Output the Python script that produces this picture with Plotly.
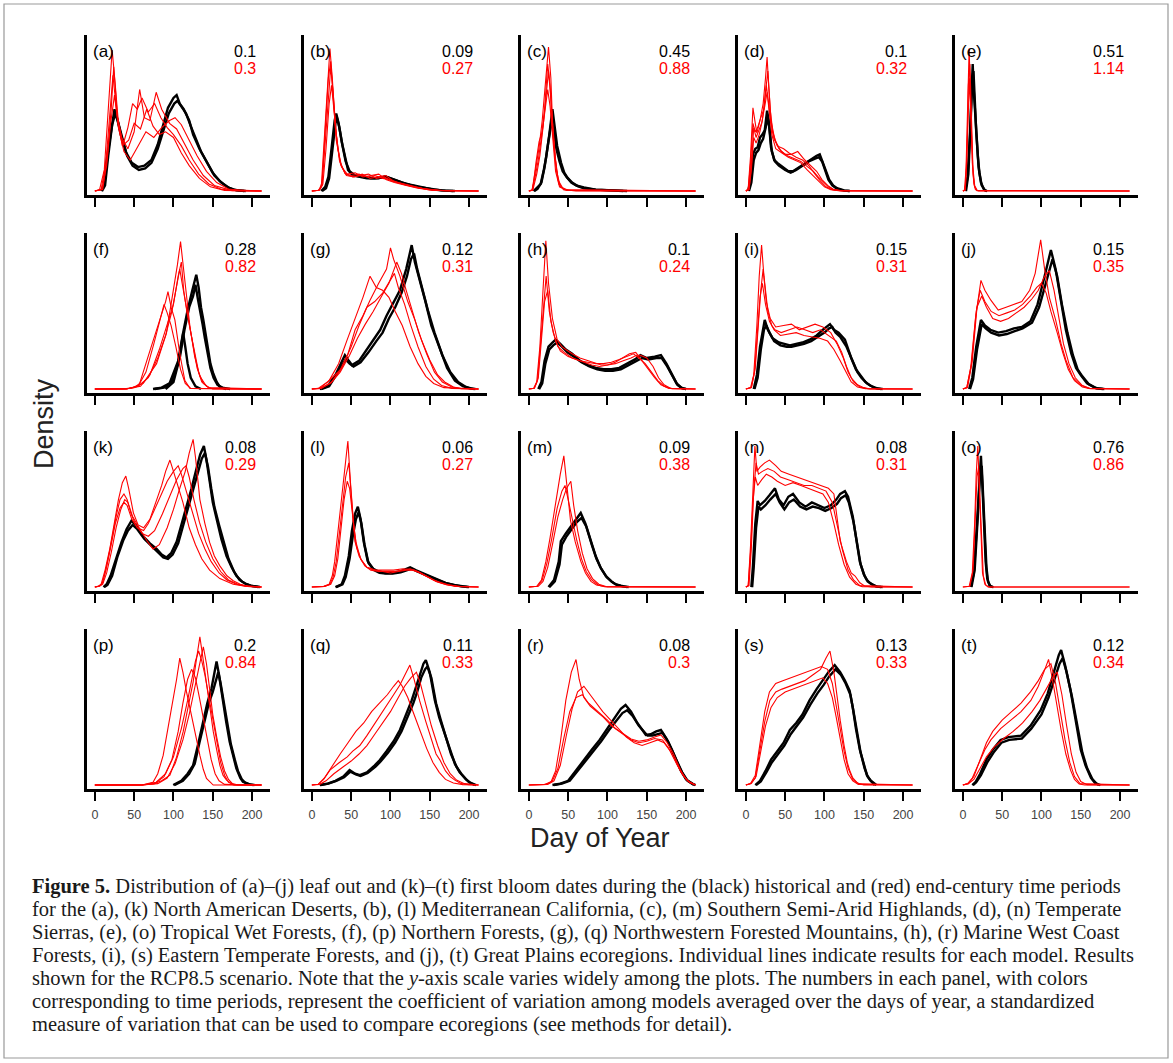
import plotly.graph_objects as go

W, H = 1173, 1063

PANEL_LABELS = ["(a)", "(b)", "(c)", "(d)", "(e)", "(f)", "(g)", "(h)", "(i)", "(j)",
                "(k)", "(l)", "(m)", "(n)", "(o)", "(p)", "(q)", "(r)", "(s)", "(t)"]
CV_HISTORICAL = ["0.1", "0.09", "0.45", "0.1", "0.51", "0.28", "0.12", "0.1", "0.15", "0.15",
                 "0.08", "0.06", "0.09", "0.08", "0.76", "0.2", "0.11", "0.08", "0.13", "0.12"]
CV_END_CENTURY = ["0.3", "0.27", "0.88", "0.32", "1.14", "0.82", "0.31", "0.24", "0.31", "0.35",
                  "0.29", "0.27", "0.38", "0.31", "0.86", "0.84", "0.33", "0.3", "0.33", "0.34"]
X_TICKS = [0, 50, 100, 150, 200]

# Model lines as (day of year, relative density) pairs.
A_BLACK = [
    [(8,0),(12,5),(15,22),(21,45),(25,58),(28,52),(32,43),(40,27),(47,20),(55,17),(63,18),(72,22),(80,33),(85,43),(93,59),(100,66),(104,68),(108,62),(113,58),(120,50),(125,40),(133,30),(142,21),(150,13),(159,7),(168,3),(176,1),(190,0)],
    [(9,0),(13,4),(17,25),(22,47),(26,55),(29,50),(33,40),(41,25),(48,18),(56,15),(64,16),(72,20),(80,30),(86,40),(94,55),(101,62),(105,64),(110,60),(116,55),(122,46),(128,37),(135,28),(144,19),(152,11),(161,6),(170,2.5),(180,0.5),(192,0)],
]
A_RED = [
    [(0,0),(6,1),(12,15),(17,55),(22,100),(26,75),(30,48),(36,33),(42,45),(48,62),(54,58),(60,66),(68,56),(76,62),(84,52),(92,45),(100,40),(110,32),(120,22),(132,12),(145,5),(160,1.5),(175,0.3),(212,0)],
    [(0,0),(8,1),(14,20),(19,55),(23,82),(28,55),(34,38),(42,30),(50,42),(57,72),(63,52),(70,50),(78,70),(85,58),(95,48),(104,44),(114,34),(125,22),(138,11),(152,4),(170,1),(212,0)],
    [(0,0),(9,1),(15,18),(20,48),(25,68),(30,45),(37,28),(45,22),(55,32),(65,42),(75,38),(85,45),(95,50),(102,52),(110,47),(120,36),(130,25),(142,14),(155,6),(170,1.5),(185,0.3),(212,0)],
    [(0,0),(10,1),(16,25),(21,60),(24,88),(29,50),(35,32),(43,36),(50,48),(58,44),(66,58),(74,46),(82,40),(90,42),(100,38),(110,27),(120,18),(133,9),(147,3),(165,0.5),(212,0)],
]
B_BLACK = [
    [(12,0),(17,3),(21,10),(25,31),(29,50),(31,55),(34,48),(38,35),(42,24),(46,15),(52,11),(60,10),(70,9),(80,9),(90,9.5),(95,10),(100,9),(110,7),(120,5),(135,3),(150,1.5),(165,0.5),(180,0)],
    [(13,0),(18,2),(22,9),(26,30),(30,48),(32,52),(35,45),(39,32),(43,21),(48,14),(55,11),(65,10),(75,9),(85,9),(93,10.5),(98,9.5),(105,8),(115,6),(125,4.5),(140,2.5),(155,1),(170,0.3),(182,0)],
]
B_RED = [
    [(0,0),(8,0.5),(12,3),(16,38),(20,75),(23,101),(26,80),(30,45),(35,22),(42,12.5),(50,11),(60,12),(70,10),(80,11),(90,9),(100,8),(110,6),(125,4),(140,2),(160,0.5),(212,0)],
    [(0,0),(9,0.5),(13,4),(17,35),(21,70),(24,88),(27,70),(31,40),(36,20),(43,12),(52,10),(62,11),(72,12),(82,9),(92,10),(102,7),(115,5),(130,3),(148,1),(170,0.2),(212,0)],
    [(0,0),(10,0.5),(14,5),(18,30),(22,62),(25,75),(28,58),(33,30),(38,17),(45,12),(55,13),(65,10),(75,11),(85,12),(95,8),(105,6),(120,4),(135,2),(155,0.5),(212,0)],
    [(0,0),(9,0.5),(13,6),(17,40),(21,80),(24,92),(27,66),(31,36),(37,18),(44,11),(54,10),(64,12),(74,9),(84,10),(94,11),(104,7),(118,4.5),(133,2.5),(150,1),(170,0.2),(212,0)],
]
C_BLACK = [
    [(6,0),(10,2),(15,5),(19,15),(22,24),(26,40),(30,58),(33,45),(36,32),(41,20),(45,13),(49,9.5),(55,6),(62,3.5),(70,2),(85,1),(104,0.3),(120,0)],
    [(7,0),(11,1.5),(16,6),(20,17),(23,28),(26,38),(29,50),(32,42),(35,30),(39,21),(43,14),(48,10),(54,6),(60,4),(70,2.5),(85,1),(105,0.3),(125,0)],
]
C_RED = [
    [(0,0),(4,0.5),(9,17),(13,31),(17,50),(21,79),(25,102),(28,80),(30,50),(34,22),(38,5),(45,1),(60,0),(212,0)],
    [(0,0),(5,0.5),(10,12),(14,25),(18,45),(22,70),(25,85),(28,65),(31,40),(35,15),(40,3),(50,0.5),(212,0)],
    [(0,0),(5,1),(9,20),(13,35),(17,42),(21,60),(24,72),(27,60),(30,38),(34,14),(39,3),(48,0.5),(212,0)],
    [(0,0),(4,0.5),(8,10),(12,22),(16,38),(20,58),(24,90),(27,75),(30,45),(33,25),(37,8),(44,1),(212,0)],
]
D_BLACK = [
    [(3,0),(6,8),(9,26),(12,30),(15,31),(18,38),(21,40),(24,43),(27,57),(29,50),(32,31),(36,22),(40,20),(47,17),(54,14),(60,14),(68,17),(76,20),(84,23),(90,25),(94,26),(98,20),(102,13),(106,8),(111,4),(116,2),(125,0.5),(132,0)],
    [(4,0),(7,6),(10,22),(13,27),(16,29),(19,34),(22,37),(25,45),(28,52),(30,45),(33,28),(37,21),(42,18),(50,15),(57,13),(64,15),(72,18),(80,21),(88,23),(93,24),(97,21),(101,14),(105,8),(110,4),(116,1.5),(125,0.3),(132,0)],
]
D_RED = [
    [(0,0),(3,2),(6,25),(9,59),(12,48),(14,41),(18,50),(22,62),(25,80),(27,95),(29,75),(32,50),(37,36),(45,28),(53,25),(62,23),(70,21),(79,17),(86,14),(92,10),(99,6),(105,3),(112,1),(120,0.3),(212,0)],
    [(0,0),(4,1),(7,18),(10,45),(13,38),(16,42),(20,48),(24,60),(27,70),(30,55),(34,42),(40,32),(48,30),(55,27),(64,24),(72,22),(80,18),(88,12),(95,7),(102,3),(110,1),(120,0.2),(212,0)],
    [(0,0),(4,1),(7,15),(10,38),(13,34),(17,40),(21,50),(25,68),(28,85),(31,58),(35,38),(42,30),(50,26),(58,26),(66,28),(75,22),(83,18),(90,14),(97,8),(104,4),(112,1),(122,0.2),(212,0)],
    [(0,0),(3,1),(6,20),(9,48),(12,42),(15,45),(19,52),(23,58),(26,75),(29,62),(33,40),(38,30),(46,27),(54,24),(62,22),(70,20),(78,15),(85,11),(92,7),(100,3),(108,1),(118,0.2),(212,0)],
]
E_BLACK = [
    [(3,0),(6,10),(9,40),(11,75),(12.5,90),(14,70),(16,50),(18,32),(20,17),(23,6),(27,1),(30,0)],
    [(4,0),(7,12),(10,50),(12,80),(13.5,85),(15,62),(17,42),(19,25),(21,13),(24,4),(28,0.5),(31,0)],
]
E_RED = [
    [(0,0),(2,0.5),(4,15),(6,60),(8,101),(10,60),(12,20),(14,5),(16,1),(20,0),(212,0)],
    [(0,0),(3,0.5),(5,20),(7,75),(9,90),(11,45),(13,12),(15,3),(18,0.3),(212,0)],
    [(0,0),(3,1),(5,25),(7,65),(8.5,80),(10.5,50),(12.5,18),(15,4),(18,0.5),(212,0)],
]
F_BLACK = [
    [(74,0),(85,1),(95,4),(106,20),(112,39),(118,56),(124,70),(129,81),(132,72),(135,58),(138,49),(141,38),(144,28),(147,18),(150.6,11),(155,5),(159,1.5),(167,0)],
    [(76,0),(88,1),(98,5),(108,22),(114,42),(120,58),(125,66),(128,74),(131,64),(134,56),(137,46),(140,36),(143,26),(147,15),(151,8),(156,3),(162,1),(172,0)],
    [(90,0),(100,5),(106,18),(110,32),(112.4,39.5),(115,30),(118,18),(122,8),(128,2),(135,0)],
]
F_RED = [
    [(0,0),(30,0),(45,0.5),(61.5,4),(78.5,18),(91,39.5),(99.7,68),(105,88),(109,104.5),(112,90),(114.5,80),(118,60),(121,44),(127,23),(133.6,9),(142,2),(150,0),(212,0)],
    [(0,0),(35,0),(50,1),(57,4),(70,27),(82.7,49),(90,62),(93,69),(97,58),(101.8,49),(108,25),(114.5,6),(121,0.5),(212,0)],
    [(0,0),(40,0),(55,2),(68,8),(80,22),(90,38),(98,55),(104,72),(108,85),(111,75),(115,62),(120,45),(125,30),(130,15),(136,5),(145,1),(212,0)],
    [(0,0),(40,0),(58,2),(70,10),(82,28),(92,45),(100,60),(106,80),(110,90),(113,70),(117,55),(122,40),(127,25),(132,12),(138,4),(146,0.5),(212,0)],
    [(0,0),(40,0),(55,2),(65,12),(75,32),(84,52),(88,60),(92,54),(97,45),(103,30),(109,14),(115,4),(122,0.5),(212,0)],
]
G_BLACK = [
    [(10,0),(20,2),(30,10),(38,20),(42,24),(47,20),(51,17),(60,20),(70,28),(80,36),(87,42),(95,52),(104,62),(112,70),(120,85),(124,95),(127,102),(131,90),(136,80),(144,63),(152,45),(163,28),(172,15),(182,6),(192,2),(201,0.5),(208,0)],
    [(12,0),(22,2),(31,10),(39,18),(43,21),(48,18),(53,16),(62,19),(72,26),(82,34),(90,40),(98,50),(106,58),(114,68),(121,80),(126,92),(130,96),(134,85),(140,72),(148,55),(156,40),(166,24),(176,12),(186,5),(196,1.5),(206,0)],
]
G_RED = [
    [(0,0),(8,0.5),(20,5),(36,13.5),(46,25),(55,42),(65,52),(74,63),(85,75),(95,85),(100,100),(104,92),(112,80),(122,62),(131,49),(140,34),(150,20.6),(160,10),(169,5),(180,1.5),(188,0.5),(212,0)],
    [(0,0),(10,0.5),(22,6),(34,18),(45,35),(55,50),(65,65),(74,80),(82,72),(90,70),(98,65),(106,55),(115,45),(125,30),(135,18),(145,9),(155,4),(168,1),(212,0)],
    [(0,0),(10,0.5),(24,4),(36,12),(48,24),(58,36),(68,46),(78,55),(88,65),(98,75),(108,90),(114,82),(120,70),(128,55),(136,40),(146,25),(156,12),(166,5),(178,1.5),(190,0.3),(212,0)],
    [(0,0),(12,0.5),(25,5),(38,15),(50,30),(60,45),(70,58),(80,62),(90,68),(100,78),(105,82),(110,72),(118,60),(126,45),(135,30),(145,16),(155,7),(165,2.5),(178,0.5),(212,0)],
]
H_BLACK = [
    [(12,0),(16,5),(20,20),(25,30),(30,33),(34,35),(40,32),(47,28),(55,25),(65,20),(75,17),(85,15),(95,14),(105,14),(115,15),(125,18),(135,21),(142,24),(150,22),(160,23),(168,24),(175,18),(182,10),(188,4),(194,1),(200,0)],
    [(13,0),(17,4),(21,18),(26,28),(31,31),(36,33),(42,30),(49,26),(57,23),(67,19),(77,16),(87,14),(97,13),(107,13),(117,14),(127,17),(137,20),(144,22),(152,21),(162,22),(169,22),(176,16),(183,9),(189,3),(195,0.5),(200,0)],
]
H_RED = [
    [(0,0),(6,0.5),(10,5),(14,30),(18,70),(21.6,105),(25,75),(30,50),(36,35),(42,30),(47,28),(55,25),(65,22),(75,20),(85,18),(92,17),(100,17),(110,18),(120,20),(130,22),(137,24),(142,24),(150,22),(158,16),(165,8),(172,3),(180,0.5),(212,0)],
    [(0,0),(7,0.5),(11,6),(15,32),(19,60),(22,80),(26,55),(31,40),(37,30),(45,26),(55,22),(65,20),(75,19),(85,18),(95,18),(105,19),(115,21),(125,23),(133,25),(140,22),(148,18),(156,12),(164,6),(172,2),(182,0.3),(212,0)],
    [(0,0),(7,0.5),(12,8),(16,35),(20,62),(24,70),(28,48),(34,34),(40,27),(50,23),(60,21),(70,19),(80,17),(90,16),(100,17),(110,19),(120,22),(128,25),(136,26),(144,20),(152,14),(160,8),(168,3),(178,0.5),(212,0)],
]
I_BLACK = [
    [(10,0),(14,10),(18,30),(22,45),(24,49),(28,42),(34,36),(42,33),(50,32),(56,31),(64,32),(72,33),(81,35),(90,38),(98,42),(104,45),(107,46),(112,42),(118,40),(126,35),(134,22),(140,14),(145,10),(152,5),(158,2.5),(164,1),(172,0)],
    [(11,0),(15,8),(19,28),(23,42),(26,45),(30,40),(36,34),(44,31),(52,30),(58,30),(66,31),(74,32),(83,34),(92,37),(100,40),(106,43),(110,44),(114,40),(120,37),(128,30),(136,19),(142,12),(147,8),(154,4),(160,2),(166,0.5),(174,0)],
]
I_RED = [
    [(0,0),(6,1),(10,10),(14,45),(17,80),(20,102),(23,80),(28,55),(33,45),(37,42),(45,40),(55,42),(65,44),(75,42),(85,40),(95,42),(105,38),(115,34),(122,26),(128,16),(134,8),(142,3),(150,1),(158,0),(212,0)],
    [(0,0),(7,1),(11,12),(15,40),(18,65),(21,75),(25,60),(30,48),(36,42),(44,38),(54,39),(64,40),(74,38),(84,37),(94,36),(104,34),(112,28),(120,20),(127,12),(134,5),(142,1.5),(152,0.3),(212,0)],
    [(0,0),(7,1),(12,15),(16,45),(19,70),(22,85),(26,62),(31,50),(38,44),(48,45),(58,46),(68,42),(78,44),(88,46),(98,44),(108,40),(116,32),(124,22),(130,12),(137,5),(145,1.5),(155,0.2),(212,0)],
]
J_BLACK = [
    [(8,0),(12,8),(17,30),(23,49),(28,45),(35,42),(45,40),(55,41),(65,43),(75,44),(86,48),(95,60),(104,80),(112,98.6),(118,85),(124,65),(131,42),(138,25),(144,15),(150,10),(158,4),(169,0.7),(178,0)],
    [(9,0),(13,7),(18,28),(24,46),(29,43),(36,40),(46,38),(56,39),(66,41),(76,43),(88,47),(97,58),(106,76),(114,92),(120,80),(126,60),(133,40),(140,24),(146,14),(152,9),(160,3.5),(170,0.5),(180,0)],
]
J_RED = [
    [(0,0),(5,1),(10,15),(16,50),(23,77),(28,70),(35.6,63),(45,56),(55,58),(65,60),(75,62),(85,70),(92,82),(99,105.7),(104,85),(110,65),(118,49),(125,32),(131,20.6),(140,8),(150,2.8),(160,0.5),(212,0)],
    [(0,0),(5,1),(11,18),(17,55),(22,70),(28,62),(36,55),(46,52),(56,54),(66,56),(76,60),(86,66),(94,72),(100,75),(106,68),(112,55),(120,40),(127,26),(134,14),(142,6),(152,1.5),(162,0.3),(212,0)],
    [(0,0),(6,1),(12,20),(18,58),(24,66),(30,58),(38,50),(48,48),(58,50),(68,54),(78,58),(88,64),(96,70),(104,80),(110,84),(116,70),(122,50),(128,32),(135,18),(143,8),(152,2.5),(162,0.4),(212,0)],
]
K_BLACK = [
    [(11,0),(15,2),(20,8),(27.6,22),(34,32),(40.3,41),(46.6,47),(52,44),(61.5,36),(70,31),(78.5,27),(85,23),(91.2,21),(97,24),(104,32),(110,44),(116.6,57),(123,70),(129.3,84),(134,94),(138.7,100),(142,90),(146.3,74),(150,60),(155,48),(161,34),(167.5,22),(174,14),(180,8),(187,4),(193,2),(200,0.7),(210,0)],
    [(12,0),(16,1.5),(22,8),(29,22),(36,33),(42,40),(48,44),(54,41),(63,34),(72,29),(80,25),(87,21),(93,20),(99,23),(106,31),(112,43),(119,57),(125,70),(131,82),(136,91),(140,95),(144,85),(148,70),(152,57),(158,44),(164,31),(170,20),(177,11),(184,5),(191,2.5),(198,1),(208,0)],
]
K_RED = [
    [(0,0),(4,0.5),(8,2),(13,12),(19,27),(25,45),(30,62),(35,74),(39.4,78.7),(43,70),(49,52.6),(55,44),(62,42),(70,48),(78,60),(85,72),(90,82),(95.5,90),(100,82),(106,70),(112,60),(120,42),(128,30),(136,20),(146,12),(159,6),(176,2),(193,0.5),(212,0)],
    [(0,0),(6,0.5),(10,2),(15,10),(21,25),(27,42),(33,55),(38,62),(42,60),(48,50),(57.5,41),(66,33),(74,27),(82,30),(92,42),(100,55),(108,70),(115,82),(120,95),(125,104.7),(128,92),(133.6,62),(140,45),(146,31.6),(152,22),(159,15),(168,8),(176,4.5),(185,2),(193,0.8),(212,0)],
    [(0,0),(5,0.5),(9,2),(14,12),(20,28),(26,45),(32,56),(37,60),(41,58),(47,48),(54,42),(62,40),(68,45),(76,55),(84,66),(92,75),(100,82),(106,86),(110,80),(116,68),(124,52),(132,38),(140,27),(148,18),(158,10),(168,5),(180,2),(193,0.5),(212,0)],
    [(0,0),(5,0.5),(10,3),(15,15),(21,32),(27,50),(32,62),(37,66),(41,62),(46,52),(52,44),(60,38),(68,36),(76,40),(86,52),(95,64),(104,76),(112,84),(116,86),(120,78),(126,62),(133,46),(141,32),(150,20),(160,11),(170,5),(182,2),(195,0.5),(212,0)],
]
L_BLACK = [
    [(30,0),(38,2),(42,8),(47,22),(51,40),(55,52),(58.5,57),(62,48),(66,32),(71,18.4),(78,13),(85,11),(93,10),(102,10),(112,11),(120,13),(125,14),(132,12),(140,10),(150,7.8),(160,5),(170,3),(180,1.5),(188,0.7),(198,0)],
    [(31,0),(39,2),(43,7),(48,20),(52,36),(56,48),(59.5,53),(63,45),(67,30),(72,17),(79,12),(86,10),(94,9.5),(103,9.5),(113,10.5),(121,12),(127,13),(134,11),(142,9),(152,7),(162,4.5),(172,2.5),(182,1.2),(190,0.5),(200,0)],
]
L_RED = [
    [(0,0),(15,0.5),(22,2),(26,8),(29,18),(33,38),(38,61),(42,85),(45.8,103.5),(49,75),(52,50),(54.7,32.6),(60,22),(67.4,15),(75,12),(85,11),(95,11),(105,11),(115,12),(125,13),(135,11),(145,8),(155,5),(165,3),(175,1.5),(188,0.5),(212,0)],
    [(0,0),(16,0.5),(23,2),(27,7),(31,18),(35,36),(39,58),(43,78),(47,88),(50,66),(53,44),(57,28),(63,19),(70,14),(80,12),(90,11),(100,10),(110,11),(120,12),(130,12),(140,9),(150,6),(160,3.5),(172,1.5),(185,0.4),(212,0)],
    [(0,0),(16,0.5),(24,2),(29,8),(33,20),(37,40),(41,62),(45,75),(48,70),(52,50),(56,32),(62,20),(70,14),(80,12),(92,12),(104,12),(116,13),(128,12),(138,10),(148,7),(158,4),(170,2),(184,0.5),(212,0)],
]
M_BLACK = [
    [(25,0),(32,5),(38,18),(40.7,32.6),(47,38),(53.4,43),(60,48),(66,52.5),(72,45),(79,32),(85,22),(91,14),(98,7.8),(105,4),(110,2),(117,1),(125,0)],
    [(26,0),(33,4),(39,16),(42,30),(48,36),(55,41),(61,46),(67,49),(73,43),(80,30),(86,20),(92,13),(99,7),(106,3.5),(112,1.5),(119,0.5),(127,0)],
]
M_RED = [
    [(0,0),(10,0.5),(16,5),(21.6,18),(27,35),(34,61),(40,80),(44.5,93),(48,75),(53,47),(59,32),(66,18.4),(72,10),(79,4),(86,1.5),(91.6,0.7),(100,0),(212,0)],
    [(0,0),(11,0.5),(17,5),(23,17),(29,34),(36,56),(42,68),(46,72),(50,62),(55,48),(61,33),(67,20),(73,11),(80,5),(88,1.5),(96,0.3),(212,0)],
    [(0,0),(12,0.5),(18,4),(24,14),(30,30),(37,50),(43,62),(48,70),(53.4,75),(57,58),(62,40),(68,24),(74,13),(81,6),(89,2),(98,0.4),(212,0)],
]
N_BLACK = [
    [(7,0),(9,15),(12,45),(15,61),(18,58),(24,61),(30,65),(37,70),(42,62),(48,58),(54,64),(60,66),(68,60),(76,57),(84,60),(92,58),(100,56),(108,58),(115,62),(120,66),(126,68),(130,64),(136,50),(141,32),(145,18),(150,9),(154,5),(158,2.8),(165,0.5),(172,0)],
    [(8,0),(10,14),(13,42),(16,57),(19,55),(25,58),(31,62),(38,66),(43,60),(49,55),(55,60),(61,62),(69,57),(77,55),(85,57),(93,56),(101,54),(109,56),(116,59),(121,63),(127,65),(131,60),(137,46),(142,29),(146,16),(151,8),(155,4),(160,2),(167,0.3),(174,0)],
]
N_RED = [
    [(0,0),(3,1),(6,30),(9,75),(11.5,100),(14,82),(18,85),(24,88),(30,90),(38,86),(45,82),(55,80),(65,78),(75,76),(85,74),(95,72),(105,70),(112,66),(120,32.6),(128,18),(134,10),(139,7.8),(145,3),(151,0.7),(160,0),(212,0)],
    [(0,0),(3,1),(6,25),(9,60),(12,78),(15,72),(20,76),(26,80),(33,78),(40,75),(50,72),(60,74),(70,72),(80,70),(90,68),(98,66),(105,60),(112,45),(118,30),(125,16),(132,7),(140,2),(148,0.3),(212,0)],
    [(0,0),(4,1),(7,28),(10,68),(13,88),(16,80),(21,82),(28,84),(36,82),(44,78),(54,76),(64,74),(74,72),(84,72),(94,70),(102,68),(110,60),(116,44),(123,26),(130,12),(137,5),(145,1),(212,0)],
]
O_BLACK = [
    [(10,0),(14,10),(18,45),(21,80),(23,93),(25,70),(27,40),(29,18),(31,6),(34,1),(38,0)],
    [(11,0),(15,12),(19,50),(22,82),(24,86),(26,60),(28,32),(30,14),(32,4),(35,0.5),(39,0)],
]
O_RED = [
    [(0,0),(8,0.5),(12,10),(15,45),(17,80),(19,100),(21,70),(23,35),(25,10),(28,2),(32,0),(212,0)],
    [(0,0),(9,0.5),(13,12),(16,50),(18,78),(20,85),(22,58),(24,28),(26,8),(29,1.5),(33,0),(212,0)],
]
P_BLACK = [
    [(99.7,0),(110,3),(118,8),(125,14),(131,28),(137.8,45),(143,58),(148.4,68.6),(152,80),(154.8,87.5),(158,78),(163,59),(167,45),(171.5,30.7),(176,20),(180,11.8),(185,5),(188.3,2.4),(195,0.8),(201,0)],
    [(101,0),(112,3),(120,8),(127,15),(133,30),(139,45),(145,58),(150,66),(154,74),(157,80),(160,72),(165,56),(169,42),(173,29),(178,18),(182,10),(187,4),(191,1.8),(197,0.5),(203,0)],
]
P_RED = [
    [(0,0),(60,0),(75,1),(85,3),(95.5,7),(104,20),(112.4,38),(119,56),(125,73),(130,92),(133.6,105),(137,92),(142,73),(146,55),(150.6,38),(155,25),(159,14),(163,7),(167.5,3.5),(176,0),(212,0)],
    [(0,0),(60,0),(74,2),(80,8),(86.9,21),(93,40),(99.7,59),(104,75),(108,90),(112,80),(116.6,66),(120,57),(125,45),(129,32),(133.6,21),(138,11),(142,4.7),(150.6,0),(212,0)],
    [(0,0),(60,0),(78,2),(90,8),(100,20),(110,40),(118,60),(124,78),(128,88),(132,95),(136,88),(140,78),(145,62),(150,45),(155,30),(160,16),(165,7),(170,2),(178,0),(212,0)],
    [(0,0),(60,0),(80,1),(92,5),(102,15),(112,32),(120,50),(127,70),(133,85),(138,98),(142,86),(146,68),(150,50),(155,34),(160,20),(165,10),(170,4),(175,1),(182,0),(212,0)],
    [(0,0),(60,0),(76,1),(88,6),(98,18),(106,38),(112,58),(118,75),(123,82),(128,76),(133,62),(138,48),(143,32),(148,18),(153,8),(158,3),(165,0.5),(212,0)],
]
Q_BLACK = [
    [(10,0),(20,1),(30,3),(40,6),(48,10.6),(55,8),(61,7),(70,9),(80,14),(86.5,17.7),(95,24),(104,31),(112,39),(120,50),(127,60),(131,67),(137,78),(142,86),(145,88.6),(150,80),(156.5,60),(162,48),(168,38),(175.6,24.8),(182,15),(188,9),(194.6,5),(200,2),(207,0)],
    [(11,0),(21,1),(31,3),(41,5.5),(49,9.5),(56,7.5),(62,6.5),(71,8.5),(81,13),(88,17),(97,23),(106,30),(114,38),(122,48),(129,58),(134,66),(139,76),(144,82),(147,84),(152,76),(158,58),(164,46),(170,35),(177,22),(184,13),(190,8),(196,4),(202,1.5),(209,0)],
]
Q_RED = [
    [(0,0),(8,0.5),(15,4),(23,10.6),(35,16),(45,20),(52,24),(61,28),(70,35),(78,42),(86.5,49.6),(95,57),(104,64),(112,70.9),(118,78),(124.7,85),(130,75),(137,60),(145,45),(152,32),(158,22),(163,17.7),(170,10),(176,6),(182,3.5),(190,1),(200,0.3),(212,0)],
    [(0,0),(10,0.5),(18,3),(28,8),(40,13),(50,17),(60,22),(70,28),(80,36),(90,44),(100,52),(110,62),(118,70),(126,76),(133,80),(138,72),(145,58),(152,42),(160,28),(168,16),(176,8),(184,3.5),(194,1),(212,0)],
    [(0,0),(8,0.5),(16,5),(26,14),(36,22),(46,30),(56,38),(66,44),(76,52),(86,58),(96,64),(104,70),(110,74),(115,70),(122,62),(130,50),(138,38),(146,26),(154,16),(162,9),(170,4),(180,1.5),(192,0.3),(212,0)],
]
R_BLACK = [
    [(30,0),(40,1),(50,3),(60,10.6),(70,18),(80,25),(90,32),(100,40),(110,48),(117,54),(123,56.7),(130,52),(138,44),(145,38),(148.8,35.5),(155,36),(162,38),(168,39),(175,33),(182,25),(188,17),(193,10.6),(200,4),(206,1.4),(210,0)],
    [(32,0),(42,1),(52,3),(62,10),(72,17),(82,24),(92,31),(102,39),(112,46),(119,51),(125,53),(132,49),(140,42),(147,37),(151,35),(157,35),(164,36),(170,37),(177,31),(184,23),(190,15),(195,9),(202,3),(208,1),(212,0)],
]
R_RED = [
    [(0,0),(20,0.5),(28,2),(34,10),(40,30),(47,60),(54,80),(60,89),(64,75),(70,62),(78,56),(86,52),(95,48),(105,42),(115,38),(123,35),(130,32.6),(140,31),(150,32),(160,34),(168,35.5),(176,30),(184,22),(193,10.6),(200,4),(206,1.4),(212,0)],
    [(0,0),(22,0.5),(30,3),(37,12),(44,32),(52,52),(60,62),(68,64),(76,58),(84,54),(92,50),(100,46),(110,40),(120,36),(130,32),(140,30),(150,31),(160,33),(170,32),(178,26),(186,18),(194,9),(202,3),(212,0)],
    [(0,0),(24,0.5),(32,3),(40,14),(48,36),(55,54),(62,66),(70,70),(78,64),(86,58),(94,52),(104,46),(114,40),(124,34),(134,30),(144,28),(154,30),(164,32),(172,30),(180,24),(188,15),(196,7),(204,2),(212,0)],
]
S_BLACK = [
    [(12,0),(18,3),(25,10),(32,18),(40,24),(48,30),(56,39),(64,44),(72,50),(81,60),(90,68),(98,74),(105,80),(113,85),(120,80),(126,74),(132,67),(136,55),(140,40),(145,25),(150,14),(154,7),(158,3.5),(164,0)],
    [(13,0),(19,2.5),(26,9),(33,16),(41,22),(49,28),(57,36),(65,42),(73,48),(82,57),(91,65),(99,71),(106,77),(114,82),(121,78),(127,72),(133,64),(137,52),(141,38),(146,23),(151,12),(155,6),(159,3),(166,0)],
]
S_RED = [
    [(0,0),(6,1),(12,5),(18,25),(24,45),(30.5,60),(38,66),(46,68),(55,70),(65,72),(75,74),(85,78),(95,82),(102,90),(107,95),(112,80),(116,62),(120,46),(125,28),(129,16),(132,10.6),(136,5),(142,1.4),(150,0),(212,0)],
    [(0,0),(7,1),(13,6),(19,24),(25,42),(32,55),(40,62),(50,66),(60,68),(70,70),(80,72),(90,74),(98,76),(104,72),(110,62),(115,48),(120,32),(125,18),(130,8),(136,3),(143,0.5),(212,0)],
    [(0,0),(6,1),(12,7),(18,30),(24,52),(30,66),(38,72),(47,74),(57,76),(67,78),(77,80),(87,82),(96,84),(104,82),(110,72),(115,56),(120,40),(125,24),(130,12),(136,4),(144,0.8),(212,0)],
]
T_BLACK = [
    [(12,0),(16,2),(22,8),(30,18),(38,25),(48,32),(58,34),(74,35),(86,42),(99,53),(108,65),(116,80),(122,92),(125,95.7),(130,85),(137,67),(143,48),(150,25),(156,14),(163,5),(168,1.5),(173,0)],
    [(13,0),(17,2),(23,7),(31,16),(39,23),(49,30),(59,32),(75,33),(87,40),(100,50),(109,62),(117,76),(123,86),(127,90),(132,80),(139,62),(145,44),(152,23),(158,12),(165,4),(170,1),(175,0)],
]
T_RED = [
    [(0,0),(6,1),(12,5),(20,15),(28,25),(35.6,32),(48,40),(61,46),(74,52),(86.5,60),(96,70),(103,80),(109,89),(114,75),(120,55),(125,39),(131,22),(137,10.6),(142,4),(148,0.7),(155,0),(212,0)],
    [(0,0),(7,1),(14,6),(22,18),(30,30),(38,38),(50,46),(62,52),(74,58),(86,66),(96,74),(104,82),(112,86),(118,72),(124,52),(130,32),(136,16),(142,6),(149,1),(212,0)],
    [(0,0),(7,1),(14,4),(22,12),(30,20),(40,27),(52,33),(64,38),(76,44),(88,52),(98,60),(106,68),(114,76),(120,80),(126,64),(132,42),(138,22),(144,9),(150,2.5),(158,0.3),(212,0)],
]

PANEL_DATA = [
    (A_BLACK, A_RED), (B_BLACK, B_RED), (C_BLACK, C_RED), (D_BLACK, D_RED), (E_BLACK, E_RED),
    (F_BLACK, F_RED), (G_BLACK, G_RED), (H_BLACK, H_RED), (I_BLACK, I_RED), (J_BLACK, J_RED),
    (K_BLACK, K_RED), (L_BLACK, L_RED), (M_BLACK, M_RED), (N_BLACK, N_RED), (O_BLACK, O_RED),
    (P_BLACK, P_RED), (Q_BLACK, Q_RED), (R_BLACK, R_RED), (S_BLACK, S_RED), (T_BLACK, T_RED),
]

CAPTION_LINES = [
    "<b>Figure 5.</b> Distribution of (a)–(j) leaf out and (k)–(t) first bloom dates during the (black) historical and (red) end-century time periods",
    "for the (a), (k) North American Deserts, (b), (l) Mediterranean California, (c), (m) Southern Semi-Arid Highlands, (d), (n) Temperate",
    "Sierras, (e), (o) Tropical Wet Forests, (f), (p) Northern Forests, (g), (q) Northwestern Forested Mountains, (h), (r) Marine West Coast",
    "Forests, (i), (s) Eastern Temperate Forests, and (j), (t) Great Plains ecoregions. Individual lines indicate results for each model. Results",
    "shown for the RCP8.5 scenario. Note that the <i>y</i>-axis scale varies widely among the plots. The numbers in each panel, with colors",
    "corresponding to time periods, represent the coefficient of variation among models averaged over the days of year, a standardized",
    "measure of variation that can be used to compare ecoregions (see methods for detail).",
]

# ---- layout geometry (pixels) ----
COL_LEFT = [87, 304, 521, 738, 955]
ROW_TOP = [35, 233, 431, 629]
PW, PH = 183, 160
X_RANGE = [-10, 222.8]
Y_RANGE = [-2.8, 110.6]
SANS = "Liberation Sans, Arial, sans-serif"
SERIF = "Liberation Serif, Times New Roman, serif"


def px(x):
    return x / W


def py(y):
    return 1 - y / H


fig = go.Figure()
layout = dict(
    width=W, height=H, margin=dict(l=0, r=0, t=0, b=0),
    paper_bgcolor="white", plot_bgcolor="white", showlegend=False,
)
annotations = []

for i, (black_lines, red_lines) in enumerate(PANEL_DATA):
    r, c = divmod(i, 5)
    n = i + 1
    xa = "x" if n == 1 else f"x{n}"
    ya = "y" if n == 1 else f"y{n}"
    left, top = COL_LEFT[c], ROW_TOP[r]
    layout["xaxis" if n == 1 else f"xaxis{n}"] = dict(
        domain=[px(left), px(left + PW)], range=X_RANGE, anchor=ya,
        showline=True, linecolor="black", linewidth=2.5, mirror=False,
        ticks="outside", ticklen=9, tickwidth=2, tickcolor="black",
        tickvals=X_TICKS, showticklabels=(r == 3), ticklabelstandoff=3,
        tickfont=dict(family=SANS, size=12.5, color="#444"),
        showgrid=False, zeroline=False, fixedrange=True,
    )
    layout["yaxis" if n == 1 else f"yaxis{n}"] = dict(
        domain=[py(top + PH), py(top)], range=Y_RANGE, anchor=xa,
        showline=True, linecolor="black", linewidth=2.5,
        ticks="", showticklabels=False, showgrid=False, zeroline=False, fixedrange=True,
    )
    for line in black_lines:
        fig.add_trace(go.Scatter(
            x=[p[0] for p in line], y=[p[1] for p in line], mode="lines",
            line=dict(color="black", width=2.4), xaxis=xa, yaxis=ya, hoverinfo="skip"))
    for line in red_lines:
        fig.add_trace(go.Scatter(
            x=[p[0] for p in line], y=[p[1] for p in line], mode="lines",
            line=dict(color="#ff0000", width=1.1), xaxis=xa, yaxis=ya, hoverinfo="skip"))
    annotations.append(dict(
        text=PANEL_LABELS[i], x=px(left + 4), y=py(top + 16), xref="paper", yref="paper",
        xanchor="left", yanchor="middle", showarrow=False,
        font=dict(family=SANS, size=17, color="black")))
    annotations.append(dict(
        text=CV_HISTORICAL[i], x=px(left + 171), y=py(top + 16), xref="paper", yref="paper",
        xanchor="right", yanchor="middle", showarrow=False,
        font=dict(family=SANS, size=16, color="black")))
    annotations.append(dict(
        text=CV_END_CENTURY[i], x=px(left + 171), y=py(top + 33.5), xref="paper", yref="paper",
        xanchor="right", yanchor="middle", showarrow=False,
        font=dict(family=SANS, size=16, color="#ff0000")))

annotations.append(dict(
    text="Day of Year", x=px(600), y=py(838), xref="paper", yref="paper",
    xanchor="center", yanchor="middle", showarrow=False,
    font=dict(family=SANS, size=27, color="#222")))
annotations.append(dict(
    text="Density", x=px(44), y=py(424), xref="paper", yref="paper", textangle=-90,
    xanchor="center", yanchor="middle", showarrow=False,
    font=dict(family=SANS, size=27, color="#222")))

for k, txt in enumerate(CAPTION_LINES):
    annotations.append(dict(
        text=txt, x=px(30), y=py(886 + 23 * k), xref="paper", yref="paper",
        xanchor="left", yanchor="middle", showarrow=False,
        font=dict(family=SERIF, size=20.5, color="#1a1a1a")))

layout["annotations"] = annotations
layout["shapes"] = [dict(
    type="rect", xref="paper", yref="paper",
    x0=px(4), x1=px(1168), y0=py(1058), y1=py(4),
    line=dict(color="#999", width=1.2), fillcolor="rgba(0,0,0,0)", layer="below")]

fig.update_layout(**layout)
fig.write_html("out.html", config={"displayModeBar": False},
               post_script="document.body.style.margin='0';document.body.style.overflow='hidden';")
